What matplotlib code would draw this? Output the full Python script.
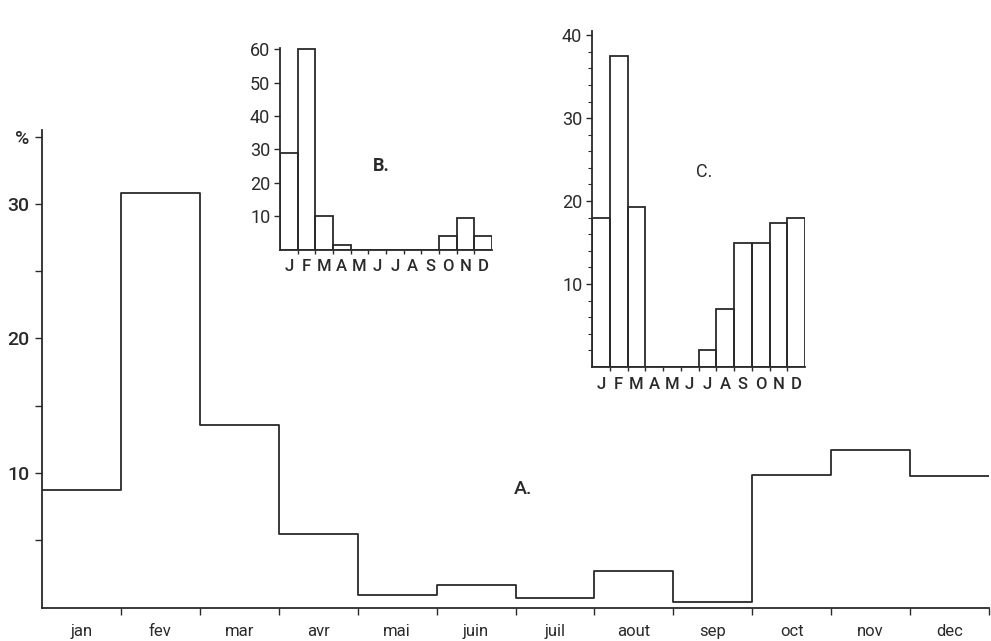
import numpy as np
import matplotlib
matplotlib.use("Agg")
import matplotlib.pyplot as plt

# =========================
# DATA
# =========================
months_a = ["jan", "fev", "mar", "avr", "mai", "juin",
            "juil", "aout", "sep", "oct", "nov", "dec"]
values_a = [8.7, 30.8, 13.6, 5.5, 0.9, 1.7, 0.7, 2.7, 0.4, 9.85, 11.7, 9.8]

months_short = ["J", "F", "M", "A", "M", "J", "J", "A", "S", "O", "N", "D"]
values_b = [29, 60, 10, 1.3, 0, 0, 0, 0, 0, 4, 9.5, 4]
values_c = [18, 37.5, 19.3, 0, 0, 0, 2, 7, 15, 15, 17.4, 18]

ink = "#2a2a2a"
plt.rcParams["font.family"] = ["Roboto", "DejaVu Sans"]

fig = plt.figure(figsize=(9.91, 6.41), dpi=100)

# =========================
# MAIN CHART (A)
# =========================
ax = fig.add_axes([42 / 991, 33.5 / 641, 947 / 991, 477.5 / 641])
edges = np.arange(len(values_a) + 1)
ax.plot(edges, values_a + [values_a[-1]], drawstyle="steps-post",
        color=ink, lw=1.3)
ax.set_xlim(0, 12)
ax.set_ylim(0, 35.5)
for s in ["top", "right"]:
    ax.spines[s].set_visible(False)
for s in ["left", "bottom"]:
    ax.spines[s].set_color(ink)
    ax.spines[s].set_linewidth(1.3)

ax.set_yticks([5, 10, 15, 20, 25, 30, 35])
ax.set_yticklabels(["", "10", "", "20", "", "30", "%"], fontsize=14,
                   fontweight="medium", color=ink)
ax.set_xticks(np.arange(1, 13))
ax.set_xticklabels([])
ax.set_xticks(np.arange(12) + 0.5, minor=True)
ax.set_xticklabels(months_a, minor=True, fontsize=12, color=ink)
ax.tick_params(axis="x", which="minor", length=0, pad=12)
ax.tick_params(axis="x", which="major", length=5, width=1, color=ink)
ax.tick_params(axis="y", length=5, width=1, color=ink, pad=4)
ax.text(6.1, 8.8, "A.", fontsize=14, fontweight="medium", ha="center",
        va="center", color=ink)

# =========================
# INSETS (B, C)
# =========================
def inset(rect, vals, ylim, major, minor, label, lab_xy, weight):
    ia = fig.add_axes(rect)
    x = np.arange(len(vals))
    ia.bar(x, vals, width=1.0, align="edge", fill=False,
           edgecolor=ink, linewidth=1.3)
    ia.set_xlim(0, 12)
    ia.set_ylim(0, ylim)
    for s in ["top", "right"]:
        ia.spines[s].set_visible(False)
    for s in ["left", "bottom"]:
        ia.spines[s].set_color(ink)
        ia.spines[s].set_linewidth(1.3)
    ia.set_yticks(major)
    ia.set_yticks(minor, minor=True)
    ia.tick_params(axis="y", which="major", length=4, width=1,
                   color=ink, labelsize=13, labelcolor=ink, pad=3)
    ia.tick_params(axis="y", which="minor", length=3, width=0.8, color=ink)
    ia.set_xticks(np.arange(1, 12))
    ia.set_xticklabels([])
    ia.set_xticks(x + 0.5, minor=True)
    ia.set_xticklabels(months_short, minor=True, fontsize=12,
                       fontweight="medium", color=ink)
    ia.tick_params(axis="x", which="minor", length=0, pad=7)
    ia.tick_params(axis="x", which="major", length=3, width=1, color=ink)
    ia.text(lab_xy[0], lab_xy[1], label, fontsize=13, fontweight=weight,
            ha="center", va="center", color=ink)
    ia.patch.set_alpha(0)
    return ia

inset([280 / 991, 391.5 / 641, 212 / 991, 202 / 641], values_b, 60.5,
      [10, 20, 30, 40, 50, 60], [], "B.", (5.75, 25), "bold")
inset([592 / 991, 274 / 641, 213 / 991, 336 / 641], values_c, 40.5,
      [10, 20, 30, 40], np.arange(2, 40, 2), "C.", (6.3, 23.5), "normal")

fig.savefig("out.png", dpi=100)
